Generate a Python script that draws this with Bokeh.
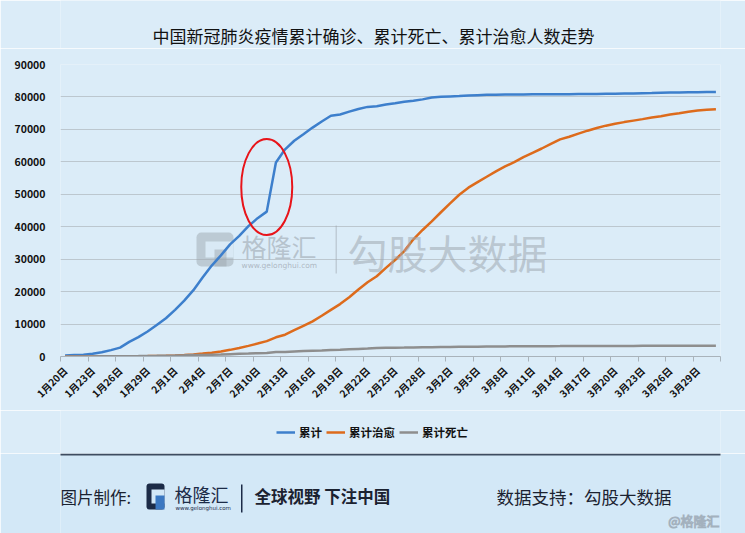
import math
from bokeh.plotting import figure
from bokeh.layouts import column
from bokeh.models import (ColumnDataSource, FixedTicker, Range1d, Legend, LegendItem,
                          Label, BoxAnnotation)
from bokeh.embed import file_html
from bokeh.resources import INLINE

# ---------------- data ----------------
months = [(1, 20, 31), (2, 1, 29), (3, 1, 31)]
dates = [f"{m}月{d}日" for m, a, b in months for d in range(a, b + 1)]

confirmed = [291, 440, 571, 830, 1287, 1975, 2744, 4515, 5974, 7711, 9692, 11791,
             14380, 17205, 20438, 24324, 28018, 31161, 34546, 37198, 40171, 42638, 44653, 59804,
             63851, 66492, 68500, 70548, 72436, 74185, 74576, 75465, 76288, 76936, 77150, 77658,
             78064, 78497, 78824, 79251, 79824,
             80026, 80151, 80270, 80409, 80552, 80651, 80695, 80735, 80754, 80778, 80793, 80813,
             80824, 80844, 80860, 80881, 80894, 80928, 80967, 81008, 81054, 81093, 81171, 81218,
             81285, 81340, 81394, 81439, 81470, 81518, 81554]
cured = [25, 25, 28, 34, 38, 49, 51, 60, 103, 124, 171, 243,
         328, 475, 632, 892, 1153, 1540, 2050, 2649, 3281, 3996, 4740, 5911,
         6723, 8096, 9419, 10844, 12552, 14376, 16155, 18264, 20659, 22888, 24734, 27323,
         29745, 32495, 36117, 39002, 41625,
         44462, 47204, 49856, 52045, 53726, 55404, 57065, 58600, 59897, 61475, 62793, 64111,
         65541, 66911, 67749, 68679, 69601, 70420, 71150, 71740, 72244, 72703, 73159, 73650,
         74051, 74588, 74971, 75448, 75790, 76052, 76238]
deaths = [6, 9, 17, 25, 41, 56, 80, 106, 132, 170, 213, 259,
          304, 361, 425, 490, 563, 636, 722, 811, 908, 1016, 1113, 1367,
          1380, 1523, 1665, 1770, 1868, 2004, 2118, 2236, 2345, 2442, 2592, 2663,
          2715, 2744, 2788, 2835, 2870,
          2912, 2943, 2981, 3012, 3042, 3070, 3097, 3119, 3136, 3158, 3169, 3176,
          3189, 3199, 3213, 3226, 3237, 3245, 3248, 3255, 3261, 3270, 3277, 3281,
          3287, 3292, 3295, 3300, 3304, 3305, 3312]
series_names = ["累计", "累计治愈", "累计死亡"]
series_colors = ["#3d7fcc", "#dd6b1c", "#8e8e8e"]
y_ticks = [0, 10000, 20000, 30000, 40000, 50000, 60000, 70000, 80000, 90000]
title_text = "中国新冠肺炎疫情累计确诊、累计死亡、累计治愈人数走势"

n = len(dates)
xs = [i + 0.5 for i in range(n)]
src = ColumnDataSource(dict(x=xs, date=dates, confirmed=confirmed, cured=cured, deaths=deaths))
cols = ["confirmed", "cured", "deaths"]

W = 745
FRAME_L, FRAME_R = 60, 720   # plot frame (all figures in the column share it)
CJK = "Noto Sans CJK SC"
BG = "#dbecf8"
BG_FOOT = "#d3e8f7"


def deco_fig(top, bottom, bg, y_range=None):
    f = figure(width=W, height=bottom - top, x_range=Range1d(FRAME_L, FRAME_R),
               y_range=y_range if y_range is not None else Range1d(bottom, top),
               output_backend="svg", toolbar_location=None, min_border=0,
               x_axis_location=None, y_axis_location=None)
    f.grid.visible = False
    f.outline_line_color = None
    f.background_fill_color = bg
    f.border_fill_color = bg
    return f


def txt(f, text, X, Y, size, color="#1b2230", style="normal", align="left", alpha=1.0,
        outline=None, font=CJK):
    kw = {}
    if outline:
        kw["text_outline_color"] = outline
    f.add_layout(Label(x=X, y=Y, text=text, text_font=font, text_font_size=size,
                       text_color=color, text_font_style=style, text_align=align,
                       text_baseline="middle", text_alpha=alpha, **kw))


def dbox(f, l, t, r, b, color, alpha=1.0, radius=0):
    f.add_layout(BoxAnnotation(left=l, right=r, top=t, bottom=b, fill_color=color,
                               fill_alpha=alpha, line_color=None, border_radius=radius))


# ---------------- header ----------------
head = deco_fig(0, 48, BG)
txt(head, title_text, 373, 35, "17px", color="#111111", align="center")

# ---------------- main chart ----------------
MAIN_TOP, MAIN_BOTTOM = 48, 410
p = figure(width=W, height=MAIN_BOTTOM - MAIN_TOP,
           x_range=Range1d(0, n), y_range=Range1d(0, 90000),
           output_backend="svg", toolbar_location=None,
           min_border_left=FRAME_L, min_border_right=W - FRAME_R, min_border_top=64 - MAIN_TOP,
           min_border_bottom=MAIN_BOTTOM - 356)
p.border_fill_color = BG
p.background_fill_color = BG
p.outline_line_color = None

p.xgrid.grid_line_color = None
p.ygrid.grid_line_color = "#bcc7cf"
p.ygrid.grid_line_width = 1
p.yaxis.ticker = FixedTicker(ticks=y_ticks)
p.yaxis.axis_line_color = None
p.yaxis.major_tick_line_color = None
p.yaxis.minor_tick_line_color = None
p.yaxis.major_label_standoff = 9
p.yaxis.major_label_text_font = CJK
p.yaxis.major_label_text_font_size = "10.5px"
p.yaxis.major_label_text_font_style = "bold"
p.yaxis.major_label_text_color = "#111111"

label_pos = [i + 0.5 for i in range(0, n, 3)]
p.xaxis.ticker = FixedTicker(ticks=label_pos, minor_ticks=list(range(0, n + 1, 3)))
p.xaxis.major_label_overrides = {i + 0.5: dates[i] for i in range(0, n, 3)}
p.xaxis.major_label_orientation = math.pi / 4
p.xaxis.major_tick_line_color = None
p.xaxis.minor_tick_line_color = "#a9b3bb"
p.xaxis.minor_tick_in = 0
p.xaxis.minor_tick_out = 5
p.xaxis.axis_line_color = "#a9b3bb"
p.xaxis.major_label_standoff = 6
p.xaxis.major_label_text_font = CJK
p.xaxis.major_label_text_font_size = "10px"
p.xaxis.major_label_text_font_style = "bold"
p.xaxis.major_label_text_color = "#111111"

# watermark (frame-relative screen px)
def SX(X):
    return X - FRAME_L

def SY(Y):
    return 356 - Y

wm = "#9ea7b0"
def wbox(l, t, r, b, color, alpha, radius=0):
    p.add_layout(BoxAnnotation(left=SX(l), right=SX(r), top=SY(t), bottom=SY(b),
                               left_units="screen", right_units="screen",
                               top_units="screen", bottom_units="screen",
                               fill_color=color, fill_alpha=alpha, line_color=None,
                               border_radius=radius, level="underlay"))

def wlab(text, X, Y, size, alpha, font=CJK):
    p.add_layout(Label(x=SX(X), y=SY(Y), x_units="screen", y_units="screen", text=text,
                       text_font=font, text_font_size=size, text_color=wm,
                       text_baseline="middle", text_alpha=alpha))

wbox(196, 232, 233, 266, wm, 0.5, radius=5)
wbox(205, 241, 233, 257, BG, 0.9)
wbox(214, 249, 226, 266, wm, 0.5)
wlab("格隆汇", 241, 245, "25px", 0.6)
wlab("www.gelonghui.com", 241, 265, "7.5px", 0.75, font="DejaVu Sans")
wbox(335, 225, 336.5, 273, wm, 0.45)
wlab("勾股大数据", 347, 251, "40px", 0.55)

# series
for c, col in zip(series_colors, cols):
    p.line("x", col, source=src, line_color=c, line_width=2.5)

# highlight the jump 2/11 -> 2/12
k = dates.index("2月11日")
p.ellipse(x=[xs[k]], y=[(confirmed[k] + confirmed[k + 1]) / 2], width=51, height=96,
          width_units="screen", height_units="screen", fill_alpha=0,
          line_color="#e8141a", line_width=2)

# ---------------- legend strip ----------------
LEG_TOP, LEG_BOTTOM = MAIN_BOTTOM, 453
leg = deco_fig(LEG_TOP, LEG_BOTTOM, BG, y_range=Range1d(-1, 0))
items = []
for name, c, col in zip(series_names, series_colors, cols):
    r = leg.line("x", col, source=src, line_color=c, line_width=2.5)
    items.append(LegendItem(label=name, renderers=[r]))
legend = Legend(items=items, orientation="horizontal",
                location=(276 - FRAME_L, (LEG_BOTTOM - LEG_TOP) - (433 - LEG_TOP) - 7),
                background_fill_alpha=0, border_line_color=None,
                glyph_width=19, glyph_height=14, label_standoff=4, spacing=4,
                padding=2, margin=0,
                label_text_font=CJK, label_text_font_size="11.5px",
                label_text_font_style="bold", label_text_color="#111111")
leg.add_layout(legend, "center")

# ---------------- footer ----------------
foot = deco_fig(453, 533, BG_FOOT)
dbox(foot, 7, 453, 736, 455, "#3e4c60")
txt(foot, "图片制作:", 60, 496, "16.5px")
dbox(foot, 146, 483, 164, 509, "#1c2b47", radius=3)
dbox(foot, 151, 489, 164, 503, BG_FOOT)
dbox(foot, 155, 495, 164, 509, "#3b78c2")
txt(foot, "格隆汇", 174, 493, "18px", color="#1c2b47")
txt(foot, "www.gelonghui.com", 175, 507, "5.5px", color="#1c2b47", font="DejaVu Sans")
dbox(foot, 240.5, 484, 242, 512, "#1c2b47")
txt(foot, "全球视野 下注中国", 254, 495, "16.5px", style="bold")
txt(foot, "数据支持：勾股大数据", 496, 496, "17.5px")
txt(foot, "@格隆汇", 719, 520, "13px", color="#ffffff", align="right", outline="#a3b1be")

layout = column(head, p, leg, foot, spacing=0)
open("out.html", "w").write(file_html(layout, INLINE))
